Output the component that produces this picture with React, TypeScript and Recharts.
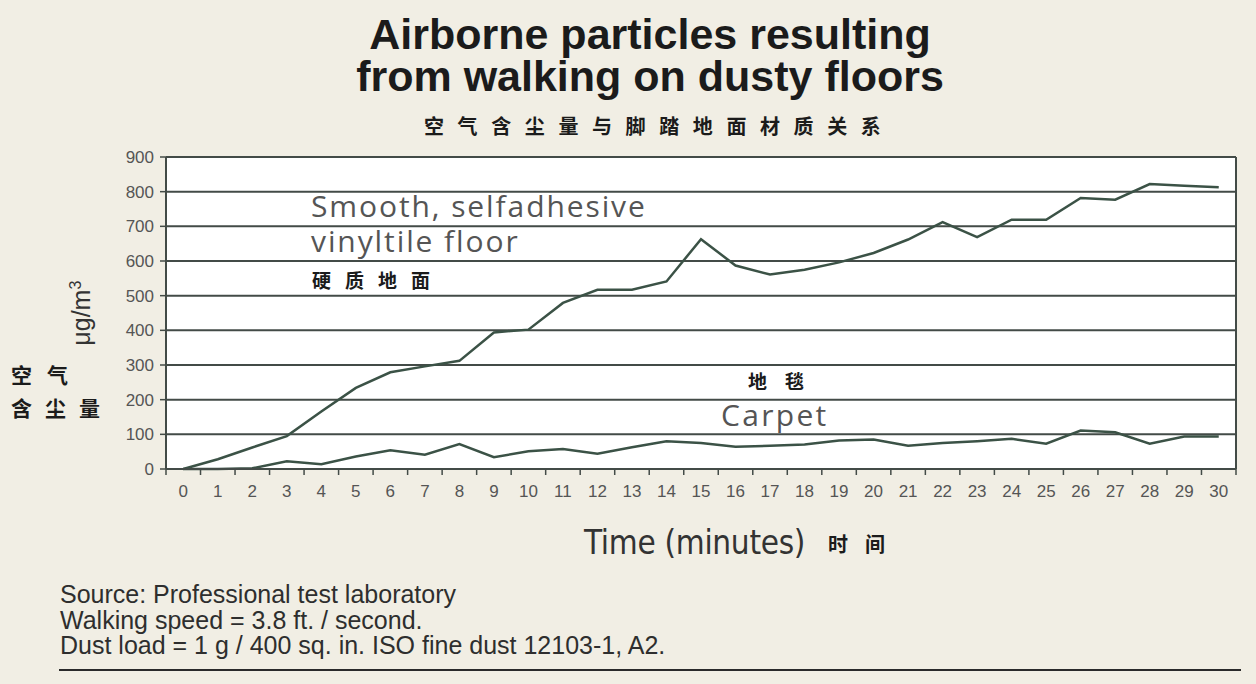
import { LineChart, Line, XAxis, YAxis, CartesianGrid, ReferenceLine } from "recharts";

const minutes = [
  0, 1, 2, 3, 4, 5, 6, 7, 8, 9, 10, 11, 12, 13, 14, 15, 16, 17, 18, 19, 20, 21, 22, 23, 24, 25, 26,
  27, 28, 29, 30,
];
const smoothVinyl = [
  0, 28, 62, 95, 166, 234, 279, 296, 312, 394, 402, 479, 517, 517, 541, 663, 587, 561, 575, 596,
  623, 662, 712, 669, 719, 719, 782, 777, 822, 817, 813,
];
const carpet = [
  0, 0, 2, 22, 14, 36, 54, 41, 72, 34, 51, 58, 44, 63, 80, 75, 64, 67, 71, 82, 85, 67, 75, 80, 87,
  73, 111, 106, 73, 94, 94,
];
const yTicks = [0, 100, 200, 300, 400, 500, 600, 700, 800, 900];

const data = minutes.map((t, i) => ({ t, smooth: smoothVinyl[i], carpet: carpet[i] }));

const PLOT_LEFT = 166;
const PLOT_RIGHT = 1236;
const HALF_STEP = (PLOT_RIGHT - PLOT_LEFT) / minutes.length / 2;

const LINE = "#3b5246";
const GRID = "#434b47";
const TICK_TEXT = "#555";

function XTick(props: any) {
  const { x, y, payload, index } = props;
  return (
    <g>
      <line x1={x - HALF_STEP} x2={x - HALF_STEP} y1={y - 8} y2={y - 2} stroke={GRID} strokeWidth={1.5} />
      {index === minutes.length - 1 && (
        <line x1={x + HALF_STEP} x2={x + HALF_STEP} y1={y - 8} y2={y - 2} stroke={GRID} strokeWidth={1.5} />
      )}
      <text x={x} y={y + 20} textAnchor="middle" fill={TICK_TEXT} fontSize={17} fontFamily="Liberation Sans, Arial, sans-serif">
        {payload.value}
      </text>
    </g>
  );
}

const abs = (left: number, top: number, extra: any = {}) => ({
  position: "absolute" as const,
  left,
  top,
  whiteSpace: "nowrap" as const,
  lineHeight: 1,
  ...extra,
});

const cjk = "'Noto Sans CJK SC', sans-serif";
const humanist = "'Open Sans', sans-serif";

export default function App() {
  return (
    <div
      style={{
        position: "absolute",
        left: 0,
        top: 0,
        width: 1256,
        height: 684,
        background: "#f1eee4",
        overflow: "hidden",
        fontFamily: "'Liberation Sans', Arial, sans-serif",
      }}
    >
      <div style={{ position: "absolute", left: 0, top: 0, width: 1256 }}>
        <LineChart
          width={1256}
          height={684}
          data={data}
          margin={{ top: 157, right: 20, bottom: 185, left: 116 }}
        >
          <CartesianGrid vertical={false} fill="#ffffff" stroke={GRID} strokeWidth={2} strokeOpacity={1} />
          <XAxis
            dataKey="t"
            type="number"
            domain={[-0.5, 30.5]}
            ticks={minutes}
            interval={0}
            height={30}
            tickLine={false}
            axisLine={{ stroke: GRID, strokeWidth: 2 }}
            tick={<XTick />}
          />
          <YAxis
            domain={[0, 900]}
            ticks={yTicks}
            interval={0}
            width={50}
            tickSize={6}
            tickMargin={6}
            axisLine={{ stroke: GRID, strokeWidth: 2 }}
            tickLine={{ stroke: GRID, strokeWidth: 1.5 }}
            tick={{ fill: TICK_TEXT, fontSize: 17, fontFamily: "Liberation Sans, Arial, sans-serif" }}
          />
          <ReferenceLine x={30.5} stroke={GRID} strokeWidth={2} />
          <Line
            dataKey="smooth"
            type="linear"
            stroke={LINE}
            strokeWidth={2.5}
            dot={false}
            isAnimationActive={false}
          />
          <Line
            dataKey="carpet"
            type="linear"
            stroke={LINE}
            strokeWidth={2.5}
            dot={false}
            isAnimationActive={false}
          />
        </LineChart>
      </div>

      {/* titles */}
      <div style={{ position: "absolute", left: 0, top: 13, width: 1300, textAlign: "center", fontSize: 43, fontWeight: "bold", color: "#1b1b1b", lineHeight: "42px" }}>
        Airborne particles resulting
        <br />
        from walking on dusty floors
      </div>
      <div style={abs(424, 116, { fontFamily: cjk, fontSize: 20, fontWeight: 700, letterSpacing: 13.6, color: "#1b1b1b" })}>
        空气含尘量与脚踏地面材质关系
      </div>

      {/* y axis label */}
      <div
        style={abs(46, 300, {
          fontSize: 25,
          color: "#333",
          transform: "rotate(-90deg)",
          transformOrigin: "center",
          width: 70,
          textAlign: "center",
        })}
      >
        μg/m<sup style={{ fontSize: 16 }}>3</sup>
      </div>
      <div style={abs(11, 364, { fontFamily: cjk, fontSize: 21, fontWeight: 700, letterSpacing: 15, color: "#1b1b1b" })}>
        空气
      </div>
      <div style={abs(11, 397, { fontFamily: cjk, fontSize: 21, fontWeight: 700, letterSpacing: 13, color: "#1b1b1b" })}>
        含尘量
      </div>

      {/* annotations */}
      <div style={abs(311, 191, { fontFamily: humanist, fontSize: 30, color: "#555", letterSpacing: 1.9 })}>
        Smooth, selfadhesive
      </div>
      <div style={abs(311, 226, { fontFamily: humanist, fontSize: 30, color: "#555", letterSpacing: 1.9 })}>
        vinyltile floor
      </div>
      <div style={abs(312, 270, { fontFamily: cjk, fontSize: 19, fontWeight: 700, letterSpacing: 14, color: "#1b1b1b" })}>
        硬质地面
      </div>
      <div style={abs(748, 371, { fontFamily: cjk, fontSize: 19, fontWeight: 700, letterSpacing: 18, color: "#1b1b1b" })}>
        地毯
      </div>
      <div style={abs(721, 400, { fontFamily: humanist, fontSize: 30, color: "#555", letterSpacing: 2.3 })}>
        Carpet
      </div>

      {/* x axis title */}
      <div style={abs(584, 526, { fontFamily: "'Liberation Sans Narrow', 'DejaVu Sans Condensed', sans-serif", fontSize: 33, color: "#333", letterSpacing: -0.3 })}>
        Time (minutes)
      </div>
      <div style={abs(828, 534, { fontFamily: cjk, fontSize: 20, fontWeight: 700, letterSpacing: 17, color: "#1b1b1b" })}>
        时间
      </div>

      {/* footer */}
      <div style={{ position: "absolute", left: 60, top: 582, fontSize: 25, color: "#2e2e2e", lineHeight: "25.5px" }}>
        Source: Professional test laboratory
        <br />
        Walking speed = 3.8 ft. / second.
        <br />
        Dust load = 1 g / 400 sq. in. ISO fine dust 12103-1, A2.
      </div>
      <div style={{ position: "absolute", left: 59, top: 669, width: 1182, height: 2, background: "#2a2a2a" }} />
    </div>
  );
}
